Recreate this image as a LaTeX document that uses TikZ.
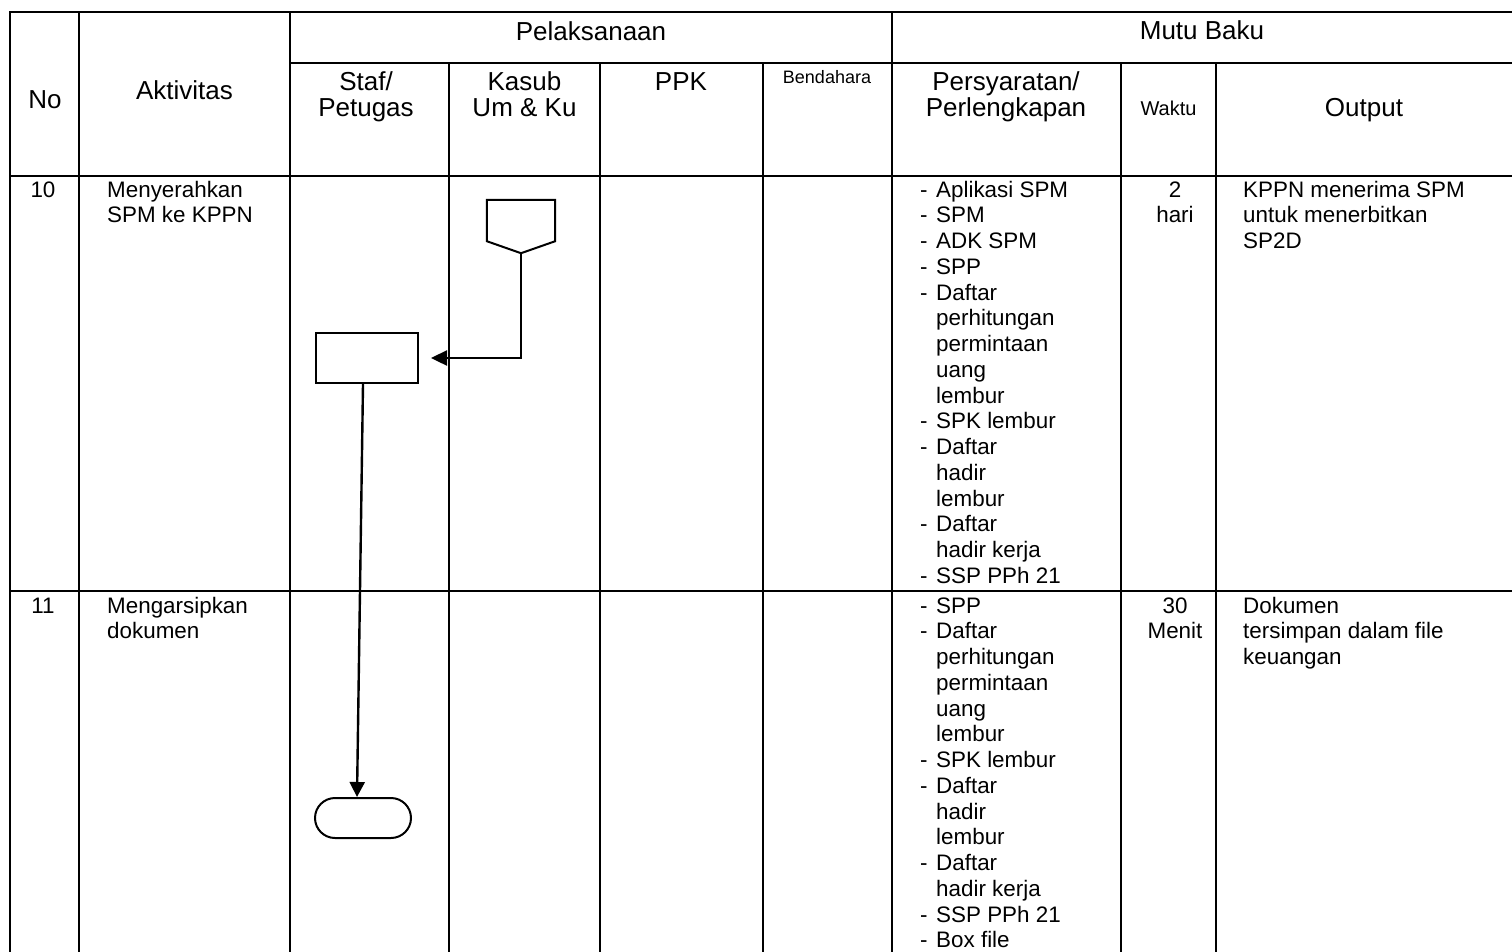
\documentclass[tikz,border=0pt]{standalone}
\usepackage{fontspec}
\setmainfont{Liberation Sans}
\usetikzlibrary{arrows.meta}
\newcommand{\hdfont}{\fontsize{26}{26}\selectfont}
\newcommand{\bdfont}{\fontsize{22.4}{25.75}\selectfont}
\newcommand{\itm}{\makebox[16pt][l]{-}}
\newcommand{\cnt}{\hspace*{16pt}}
\begin{document}
\begin{tikzpicture}[x=1pt,y=-1pt,
  grid/.style={line width=2.6pt, line cap=rect},
  hd/.style={inner sep=0pt, font=\hdfont},
  bd/.style={inner sep=0pt, font=\bdfont},
  shapeline/.style={draw, line width=2pt},
  flow/.style={line width=2.4pt},
]
\useasboundingbox (0,0) rectangle (1512,951);
% grid
\foreach \yy in {12,176,591} \draw[grid] (10,\yy) -- (1516,\yy);
\draw[grid] (290,63) -- (1516,63);
\foreach \xx in {10,79,290,892} \draw[grid] (\xx,12) -- (\xx,956);
\foreach \xx in {449,600,763,1121,1216} \draw[grid] (\xx,63) -- (\xx,956);
% header
\node[hd, anchor=base] (hpel) at (591,40) {Pelaksanaan};
\node[hd, anchor=base] (hmutu) at (1202,39) {Mutu Baku};
\node[hd, anchor=base] (hno) at (45,108) {No};
\node[hd, anchor=base] (hakt) at (184.5,99) {Aktivitas};
\node[hd, anchor=base] (hstaf) at (366,90) {\parbox[t]{150pt}{\centering Staf/\\Petugas}};
\node[hd, anchor=base] (hkasub) at (524.5,90) {\parbox[t]{150pt}{\centering Kasub\\Um \& Ku}};
\node[hd, anchor=base] (hppk) at (681,90) {PPK};
\node[hd, anchor=base, font=\fontsize{18}{20}\selectfont] (hbend) at (827,83) {Bendahara};
\node[hd, anchor=base] (hpers) at (1006,90.5) {\parbox[t]{220pt}{\centering Persyaratan/\\Perlengkapan}};
\node[hd, anchor=base, font=\fontsize{20}{22}\selectfont] (hwaktu) at (1168.5,115) {Waktu};
\node[hd, anchor=base] (hout) at (1364,116) {Output};
% row 10
\node[bd, anchor=base] (n10) at (43,197) {10};
\node[bd, anchor=base west] (a10) at (107,197) {\parbox[t]{180pt}{\raggedright Menyerahkan\\SPM ke KPPN}};
\node[bd, anchor=base west] (p10) at (920,197) {\parbox[t]{200pt}{\raggedright
\itm Aplikasi SPM\\
\itm SPM\\
\itm ADK SPM\\
\itm SPP\\
\itm Daftar\\
\cnt perhitungan\\
\cnt permintaan\\
\cnt uang\\
\cnt lembur\\
\itm SPK lembur\\
\itm Daftar\\
\cnt hadir\\
\cnt lembur\\
\itm Daftar\\
\cnt hadir kerja\\
\itm SSP PPh 21}};
\node[bd, anchor=base] (w10) at (1175,197) {\parbox[t]{90pt}{\centering 2\\hari}};
\node[bd, anchor=base west] (o10) at (1243,197) {\parbox[t]{260pt}{\raggedright KPPN menerima SPM\\untuk menerbitkan\\SP2D}};
% row 11
\node[bd, anchor=base] (n11) at (43,613) {11};
\node[bd, anchor=base west] (a11) at (107,613) {\parbox[t]{180pt}{\raggedright Mengarsipkan\\dokumen}};
\node[bd, anchor=base west] (p11) at (920,613) {\parbox[t]{200pt}{\raggedright
\itm SPP\\
\itm Daftar\\
\cnt perhitungan\\
\cnt permintaan\\
\cnt uang\\
\cnt lembur\\
\itm SPK lembur\\
\itm Daftar\\
\cnt hadir\\
\cnt lembur\\
\itm Daftar\\
\cnt hadir kerja\\
\itm SSP PPh 21\\
\itm Box file}};
\node[bd, anchor=base] (w11) at (1175,613) {\parbox[t]{90pt}{\centering 30\\Menit}};
\node[bd, anchor=base west] (o11) at (1243,613) {\parbox[t]{260pt}{\raggedright Dokumen\\tersimpan dalam file\\keuangan}};
% flow shapes
\node[shapeline, minimum width=102pt, minimum height=50pt, inner sep=0pt] (proc) at (367,358) {};
\node[shapeline, rounded corners=20pt, minimum width=96pt, minimum height=40pt, inner sep=0pt] (term) at (363,818) {};
\node[minimum width=68pt, minimum height=41pt, inner sep=0pt] (off) at (521,220.5) {};
\draw[shapeline] (off.north west) -- (off.north east) -- (off.south east) -- ([yshift=-12pt]off.south) -- (off.south west) -- cycle;
\coordinate (offtip) at ([yshift=-12pt]off.south);
% connectors
\draw[flow, -{Triangle[length=16pt,width=15pt]}] (offtip) |- ([xshift=12pt]proc.east);
\draw[flow, -{Triangle[length=15pt,width=15pt]}] ([xshift=-4pt]proc.south) -- ([xshift=-6pt]term.north);
\end{tikzpicture}
\end{document}
